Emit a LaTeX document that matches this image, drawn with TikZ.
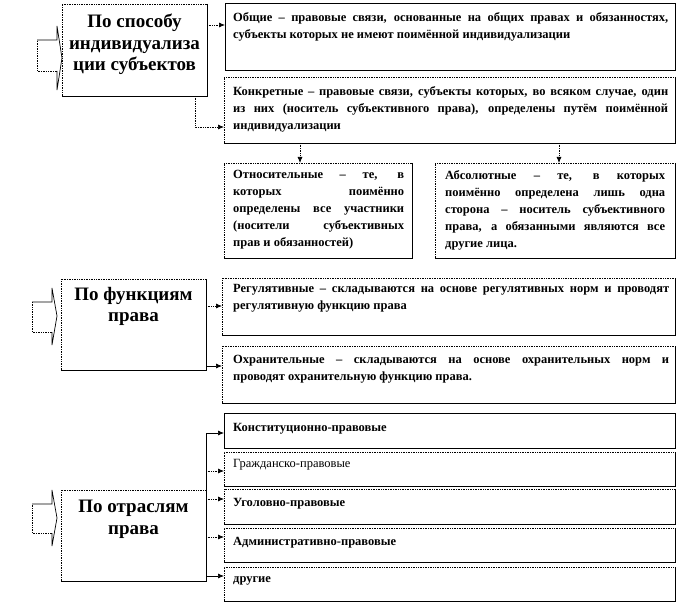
\documentclass[tikz,border=0pt]{standalone}
\usepackage{fontspec}
\setmainfont{Liberation Serif}
\usetikzlibrary{arrows.meta}
\tikzset{
 box/.style={draw=none, anchor=north west, inner sep=0pt, outer sep=0pt},
 ttl/.style={anchor=north, align=center, inner sep=0pt, font=\fontsize{19}{21.5}\selectfont\bfseries},
 txt/.style={anchor=north west, inner sep=0pt, align=justify, font=\fontsize{12.5}{17}\selectfont\bfseries},
 txtn/.style={anchor=north west, inner sep=0pt, font=\fontsize{12.5}{17}\selectfont},
 ln/.style={line width=0.7pt},
 dln/.style={line width=0.7pt, densely dotted},
 conn/.style={ln, -{Latex[length=6pt,width=5pt]}},
 dconn/.style={dln, -{Latex[length=6pt,width=5pt]}},
}
\newcommand\mixbox[1]{%
 \draw[dln] (#1.south west) -- (#1.north west) -- (#1.north east);
 \draw[ln] (#1.north east) -- (#1.south east) -- (#1.south west);}
\newcommand\solbox[1]{\draw[ln] (#1.south west) rectangle (#1.north east);}
\begin{document}
\begin{tikzpicture}[x=1pt,y=-1pt]
\useasboundingbox (0,0) rectangle (679,604);
% ---------- block 1 ----------
\node[box, minimum width=145, minimum height=92] (b1) at (62,4) {};
\node[ttl] (b1t) at ([yshift=-10pt]b1.north) {По способу\\индивидуализа\\ции субъектов};
\node[box, minimum width=450, minimum height=67] (obsh) at (225,3) {};
\node[txt, text width=435] (obsht) at (233,12) {Общие – правовые связи, основанные на общих правах и обязанностях, субъекты которых не имеют поимённой индивидуализации};
\node[box, minimum width=451, minimum height=66] (konk) at (224,77) {};
\node[txt, text width=435] (konkt) at (233,86) {Конкретные – правовые связи, субъекты которых, во всяком случае, один из них (носитель субъективного права), определены путём поимённой индивидуализации};
\node[box, minimum width=188, minimum height=95] (otn) at (224,163) {};
\node[txt, text width=171] (otnt) at (233,170) {Относительные – те, в\linebreak которых поимённо\linebreak определены все участники\linebreak (носители субъективных\linebreak прав и обязанностей)};
\node[box, minimum width=240, minimum height=95] (abso) at (435,163) {};
\node[txt, text width=220] (absot) at (445,170) {Абсолютные – те, в которых\linebreak поимённо определена лишь одна\linebreak сторона – носитель субъективного\linebreak права, а обязанными являются все\linebreak другие лица.};
% ---------- block 2 ----------
\node[box, minimum width=145, minimum height=91] (b2) at (61,279) {};
\node[ttl] (b2t) at ([yshift=-8pt]b2.north) {По функциям\\права};
\node[box, minimum width=453, minimum height=57] (reg) at (222,278) {};
\node[txt, text width=436] (regt) at (233,284) {Регулятивные – складываются на основе регулятивных норм и проводят регулятивную функцию права};
\node[box, minimum width=453, minimum height=57] (ohr) at (222,346) {};
\node[txt, text width=436] (ohrt) at (233,355) {Охранительные – складываются на основе охранительных норм и\linebreak проводят охранительную функцию права.};
% ---------- block 3 ----------
\node[box, minimum width=145, minimum height=91] (b3) at (61,490) {};
\node[ttl] (b3t) at ([yshift=-10pt]b3.north) {По отраслям\\права};
\node[box, minimum width=451, minimum height=35] (k1) at (224,413) {};
\node[box, minimum width=451, minimum height=34] (k2) at (224,452) {};
\node[box, minimum width=451, minimum height=35] (k3) at (224,489) {};
\node[box, minimum width=451, minimum height=34] (k4) at (224,528) {};
\node[box, minimum width=451, minimum height=34] (k5) at (224,567) {};
\node[txt] (k1t) at (233,423) {Конституционно-правовые};
\node[txtn] (k2t) at (233,459) {Гражданско-правовые};
\node[txt] (k3t) at (233,498) {Уголовно-правовые};
\node[txt] (k4t) at (233,537) {Административно-правовые};
\node[txt] (k5t) at (233,576) {другие};
% ---------- borders ----------
\mixbox{b1}\solbox{obsh}\mixbox{konk}\mixbox{otn}\mixbox{abso}
\mixbox{b2}\mixbox{reg}\mixbox{ohr}
\mixbox{b3}\solbox{k1}\mixbox{k2}\mixbox{k3}\mixbox{k4}\mixbox{k5}
% ---------- block arrows ----------
\draw[ln] (37,40) -- (57,40) -- (57,26) -- (62,58) -- (57,90) -- (57,71);
\draw[dln] (57,71) -- (37,71) -- (37,40);
\draw[ln] (32,302) -- (52,302) -- (52,288) -- (57,316) -- (52,345) -- (52,332);
\draw[dln] (52,332) -- (32,332) -- (32,302);
\draw[ln] (32,504) -- (52,504) -- (52,490) -- (57,518) -- (52,546) -- (52,533);
\draw[dln] (52,533) -- (32,533) -- (32,504);
% ---------- connectors ----------
\coordinate (p1) at (207,25);
\draw[dconn] (p1) -- (p1 -| obsh.west);
\coordinate (p2) at (195,96);
\coordinate (p2e) at (224,127);
\draw[dconn] (p2) |- (p2e);
\coordinate (q1) at (300,143);
\coordinate (q2) at (559,143);
\draw[dconn] (q1) -- (q1 |- otn.north);
\draw[dconn] (q2) -- (q2 |- abso.north);
\coordinate (r1) at (206,306);
\coordinate (r2) at (206,366);
\draw[dconn] (r1) -- (r1 -| reg.west);
\draw[conn] (r2) -- (r2 -| ohr.west);
\coordinate (t1) at (206,433);
\coordinate (t2) at (206,471);
\coordinate (t3) at (206,499);
\coordinate (t4) at (206,537);
\coordinate (t5) at (206,576);
\draw[conn] (b3.north east) -- (t1) -- (t1 -| k1.west);
\draw[dconn] (t2) -- (t2 -| k2.west);
\draw[dconn] (t3) -- (t3 -| k3.west);
\draw[dconn] (t4) -- (t4 -| k4.west);
\draw[conn] (t5) -- (t5 -| k5.west);
\end{tikzpicture}
\end{document}
